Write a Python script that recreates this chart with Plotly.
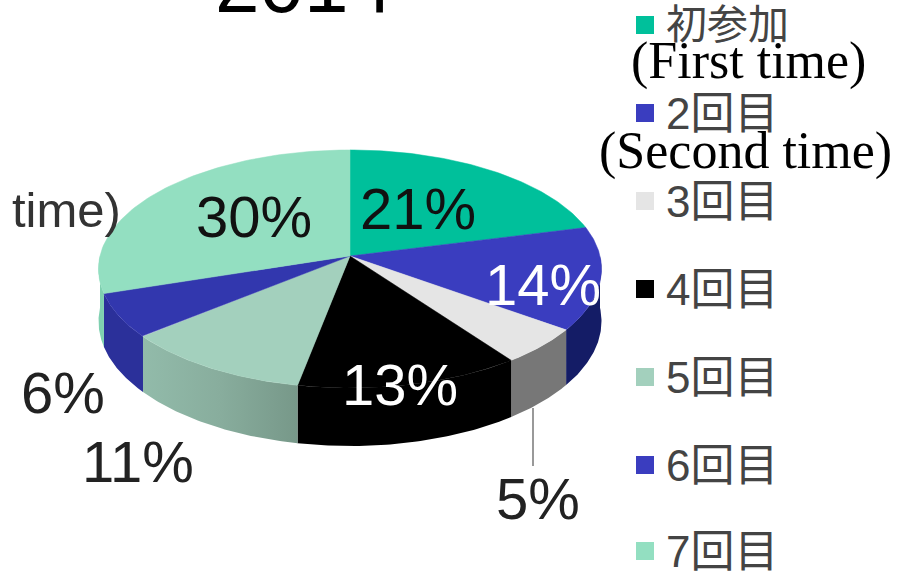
import numpy as np
import plotly.graph_objects as go

# ---- data
values = [21, 14, 5, 13, 11, 6, 30]
legend_jp = ["初参加", "2回目", "3回目", "4回目", "5回目", "6回目", "7回目"]
legend_en = {0: "(First time)", 1: "(Second time)"}
title_text = "2014"
stray_text = "time)"

# ---- styles / layout
top_colors = ["#00c09b", "#3a3dbf", "#e5e5e5", "#000000", "#a3d0bd", "#3237ae", "#93dfc1"]
side_colors = ["#00a080", "#141c66", "#777777", "#000000", "#86ab9b", "#2b309a", "#7fd0b0"]
legend_colors = ["#00c09b", "#3a3dbf", "#e5e5e5", "#000000", "#a3d0bd", "#3a3dbf", "#93dfc1"]
label_xy = [(418, 208), (543, 284), (538, 498), (400, 384), (138, 461), (63, 392), (254, 216)]
label_col = ["#111", "#fff", "#222", "#fff", "#222", "#222", "#111"]
legend_y = [25, 113, 201, 289, 377, 465, 551]
legend_size = [41, 44, 44, 44, 44, 44, 44]
en_xy = {0: (748, 61), 1: (745, 151)}
CX, CY, SX, SY, K, DEPTH = 350, 256, 250, 117.6, 0.109, 58
SANS = "Liberation Sans, Arial, sans-serif"
LEG = "Liberation Sans, Noto Sans CJK JP, sans-serif"


def rim(theta):
    """Perspective projection of the pie's circular rim (theta clockwise from 12 o'clock)."""
    w = 1 + K * np.cos(theta)
    return CX + SX * np.sin(theta) / w, CY - SY * np.cos(theta) / w, (1 - K) / w


fig = go.Figure()
edges = np.cumsum([0] + values) / sum(values) * 2 * np.pi

# side walls (only the front half is visible)
for i in range(len(values)):
    a, b = max(edges[i], np.pi / 2), min(edges[i + 1], 3 * np.pi / 2)
    if b <= a:
        continue
    x, y, s = rim(np.linspace(a, b, 60))
    lo = y + DEPTH * s
    tr = dict(x=np.r_[x, x[::-1], x[0]], y=np.r_[y, lo[::-1], y[0]], mode="lines",
              fill="toself", line=dict(width=0), hoverinfo="skip", showlegend=False)
    if i == 4:
        tr["fillgradient"] = dict(type="horizontal",
                                  colorscale=[[0, "#92bbaa"], [0.5, "#88ad9d"], [1, "#779889"]])
    else:
        tr["fillcolor"] = side_colors[i]
    fig.add_trace(go.Scatter(**tr))

# top faces
for i in range(len(values)):
    x, y, _ = rim(np.linspace(edges[i], edges[i + 1], 80))
    fig.add_trace(go.Scatter(x=np.r_[CX, x, CX], y=np.r_[CY, y, CY], mode="lines", fill="toself",
                             fillcolor=top_colors[i], line=dict(width=0.5, color=top_colors[i]),
                             hoverinfo="skip", showlegend=False))

# leader line of the 5% label
fig.add_trace(go.Scatter(x=[533, 533], y=[408, 466], mode="lines", line=dict(color="#777", width=1.5),
                         hoverinfo="skip", showlegend=False))

# legend markers
fig.add_trace(go.Scatter(x=[645] * len(legend_y), y=legend_y, mode="markers",
                         marker=dict(symbol="square", size=18, color=legend_colors, line=dict(width=0)),
                         hoverinfo="skip", showlegend=False))


def note(x, y, text, font, size, color, xanchor="center", yanchor="middle"):
    fig.add_annotation(x=x, y=y, text=text, showarrow=False, xanchor=xanchor, yanchor=yanchor,
                       font=dict(family=font, size=size, color=color), xref="x", yref="y")


for v, (x, y), c in zip(values, label_xy, label_col):
    note(x, y, f"{v}%", SANS, 58, c)
for t, y, sz in zip(legend_jp, legend_y, legend_size):
    note(664, y, t, LEG, sz, "#444", "left")
for i, (x, y) in en_xy.items():
    note(x, y, legend_en[i], "Liberation Serif, Times New Roman, serif", 52, "#000")
note(66, 210, stray_text, SANS, 49, "#333")
note(304, 31, title_text, SANS, 80, "#000", yanchor="bottom")

fig.update_layout(width=897, height=571, margin=dict(l=0, r=0, t=0, b=0), showlegend=False,
                  paper_bgcolor="#fff", plot_bgcolor="#fff",
                  xaxis=dict(range=[0, 897], visible=False, fixedrange=True),
                  yaxis=dict(range=[571, 0], visible=False, fixedrange=True))
fig.write_html("out.html", config={"displayModeBar": False},
               post_script="document.body.style.margin='0';")
